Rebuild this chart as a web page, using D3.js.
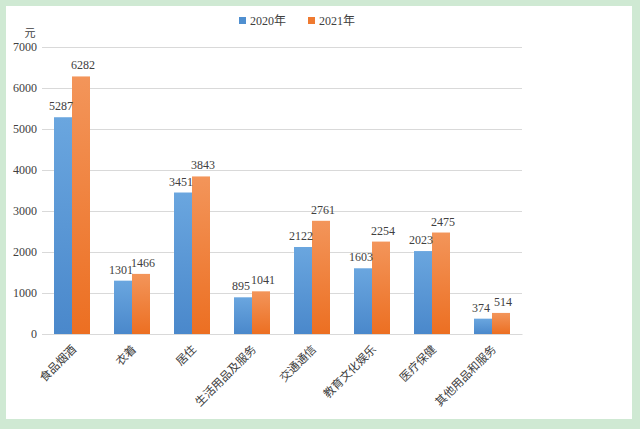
<!DOCTYPE html>
<html>
<head>
<meta charset="utf-8">
<script src="https://cdn.jsdelivr.net/npm/d3@7"></script>
<style>
  html, body { margin: 0; padding: 0; background: #cfe9d3; }
  svg { display: block; }
  text { font-family: "Liberation Serif", "Noto Sans CJK SC", serif; fill: #404040; }
</style>
</head>
<body>
<div id="chart"></div>
<script>
// categories and values
const categories = ['食品烟酒', '衣着', '居住', '生活用品及服务', '交通通信', '教育文化娱乐', '医疗保健', '其他用品和服务'];
const seriesNames = ['2020年', '2021年'];
const values2020 = [5287, 1301, 3451, 895, 2122, 1603, 2023, 374];
const values2021 = [6282, 1466, 3843, 1041, 2761, 2254, 2475, 514];
const yTicks = [0, 1000, 2000, 3000, 4000, 5000, 6000, 7000];

(function(){
const width = 640, height = 429;
const svg = d3.select('#chart').append('svg')
    .attr('width', width).attr('height', height);

// white panel inside the green frame
svg.append('rect').attr('x', 6).attr('y', 6).attr('width', 626).attr('height', 413).attr('fill', '#fff');

const defs = svg.append('defs');
function grad(id, c1, c2) {
    const g = defs.append('linearGradient').attr('id', id)
        .attr('x1', 0).attr('y1', 0).attr('x2', 0).attr('y2', 1);
    g.append('stop').attr('offset', '0%').attr('stop-color', c1);
    g.append('stop').attr('offset', '100%').attr('stop-color', c2);
}
grad('g2020', '#6aa6df', '#4a88cb');
grad('g2021', '#f3955a', '#ec6f22');
const fills = ['url(#g2020)', 'url(#g2021)'];
const legendColors = ['#4f8fd0', '#ef7a30'];

const mLeft = 42, mRight = 522, mTop = 47, mBottom = 334;

const x = d3.scaleBand().domain(categories).range([mLeft, mRight]).paddingInner(0.4).paddingOuter(0.2);
const xs = d3.scaleBand().domain([0, 1]).range([0, x.bandwidth()]);
const y = d3.scaleLinear().domain([0, 7000]).range([mBottom, mTop]);

// gridlines
svg.append('g').selectAll('line').data(yTicks).join('line')
    .attr('x1', mLeft).attr('x2', mRight)
    .attr('y1', d => y(d) + 0.5).attr('y2', d => y(d) + 0.5)
    .attr('stroke', '#d9d9d9').attr('stroke-width', 1);

// y axis labels
const yAxis = d3.axisLeft(y).tickValues(yTicks).tickFormat(d3.format('d')).tickSize(0).tickPadding(5);
const yg = svg.append('g').attr('transform', `translate(${mLeft},0)`).call(yAxis);
yg.select('.domain').remove();
yg.selectAll('text').style('font-size', '12px').attr('fill', '#404040')
    .style('font-family', '"Liberation Serif", serif');

svg.append('text').attr('x', 30).attr('y', 37).attr('text-anchor', 'middle')
    .style('font-size', '11px').style('font-family', '"Noto Sans CJK SC", sans-serif').text('元');

// bars
const rows = categories.map((c, i) => ({ c, v: [values2020[i], values2021[i]] }));
const groups = svg.append('g').selectAll('g').data(rows).join('g')
    .attr('transform', d => `translate(${x(d.c)},0)`);
groups.selectAll('rect').data(d => d.v.map((v, k) => ({ v, k }))).join('rect')
    .attr('x', d => xs(d.k)).attr('width', xs.bandwidth())
    .attr('y', d => y(d.v)).attr('height', d => y(0) - y(d.v))
    .attr('fill', d => fills[d.k]);
groups.selectAll('text.val').data(d => d.v.map((v, k) => ({ v, k }))).join('text')
    .attr('class', 'val')
    .attr('x', d => xs(d.k) + xs.bandwidth() / 2 + (d.k === 0 ? -2 : 2))
    .attr('y', d => y(d.v) - 7)
    .attr('text-anchor', 'middle')
    .style('font-size', '12px')
    .text(d => d.v);

// x axis labels
const xg = svg.append('g').attr('transform', `translate(0,${mBottom})`)
    .call(d3.axisBottom(x).tickSize(0).tickPadding(0));
xg.select('.domain').attr('stroke', '#d9d9d9');
xg.selectAll('text')
    .style('font-size', '11.5px')
    .style('font-family', '"Noto Sans CJK SC", sans-serif')
    .attr('fill', '#404040')
    .attr('text-anchor', 'end')
    .attr('dy', '0')
    .attr('transform', 'translate(5,16) rotate(-45)');

// legend
const legend = svg.append('g').selectAll('g').data(seriesNames).join('g')
    .attr('transform', (d, i) => `translate(${239 + i * 69},17)`);
legend.append('rect').attr('width', 7).attr('height', 7).attr('y', 0)
    .attr('fill', (d, i) => legendColors[i]);
legend.append('text').attr('x', 11).attr('y', 7.5)
    .style('font-size', '12px').text(d => d);
})();
</script>
</body>
</html>
